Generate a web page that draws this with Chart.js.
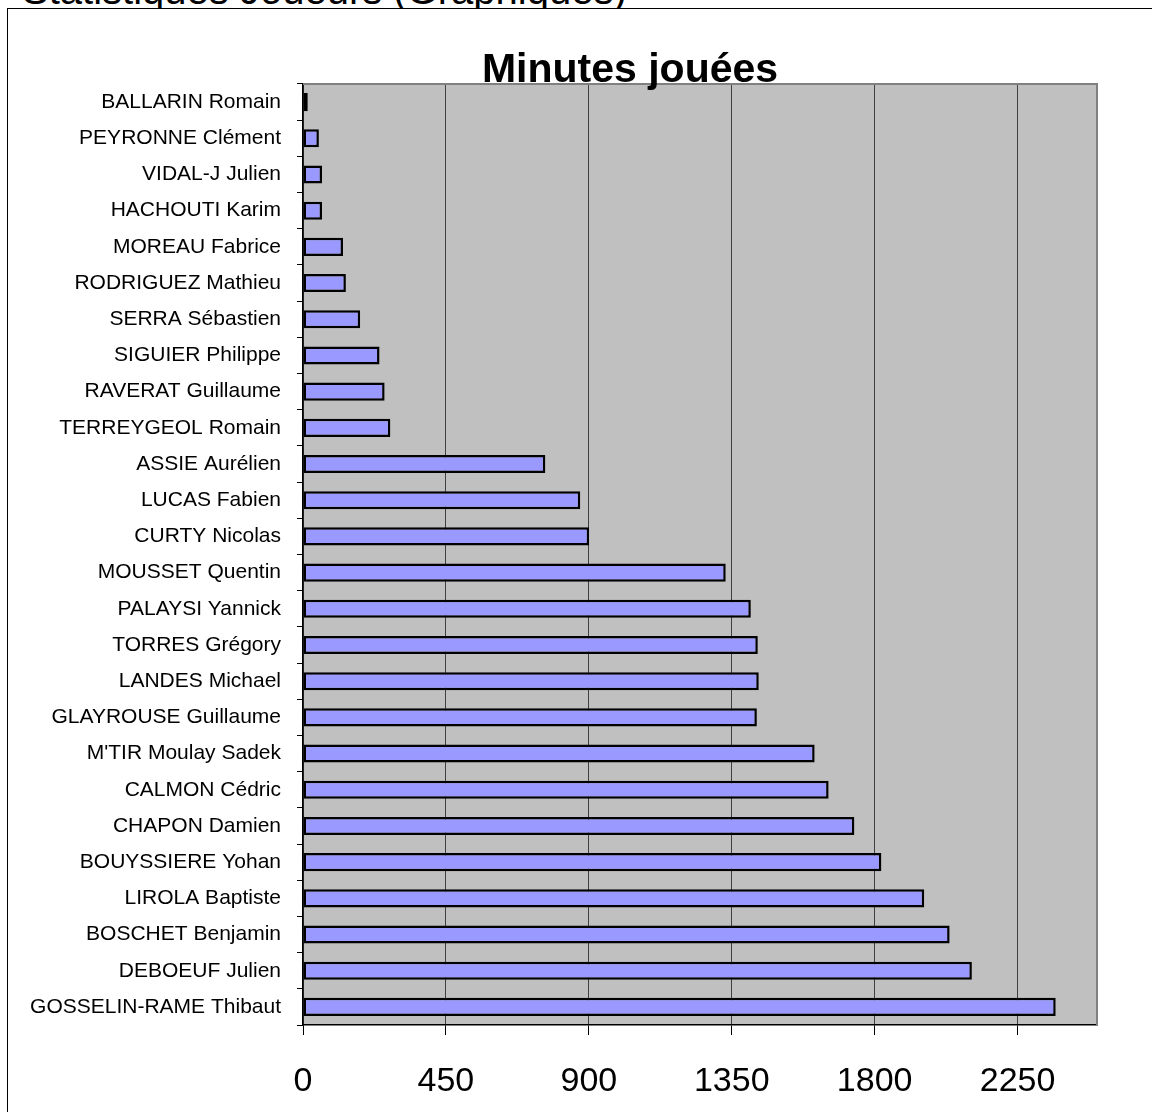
<!DOCTYPE html>
<html>
<head>
<meta charset="utf-8">
<script src="https://cdn.jsdelivr.net/npm/chart.js@4.4.0/dist/chart.umd.min.js"></script>
<style>
  html, body { margin:0; padding:0; width:1152px; height:1112px; overflow:hidden; background:#fff; }
  #pageTitle { position:absolute; left:22px; top:-30px; font-family:"Liberation Sans", Arial, sans-serif; font-size:40px; line-height:40px; color:#000; white-space:nowrap; z-index:1; }
  #frame { position:absolute; left:7px; top:8px; width:1300px; height:1300px; border-left:1px solid #000; border-top:1px solid #000; background:#fff; z-index:2; }
  #wrap { position:absolute; left:0; top:0; width:1152px; height:1112px; z-index:3; }
</style>
</head>
<body>
<div id="pageTitle">Statistiques Joueurs (Graphiques)</div>
<div id="frame"></div>
<div id="wrap"><canvas id="c" width="1152" height="1112"></canvas></div>
<script>
const chartTitle = "Minutes jouées";
const players = [
  "BALLARIN Romain", "PEYRONNE Clément", "VIDAL-J Julien", "HACHOUTI Karim",
  "MOREAU Fabrice", "RODRIGUEZ Mathieu", "SERRA Sébastien", "SIGUIER Philippe",
  "RAVERAT Guillaume", "TERREYGEOL Romain", "ASSIE Aurélien", "LUCAS Fabien",
  "CURTY Nicolas", "MOUSSET Quentin", "PALAYSI Yannick", "TORRES Grégory",
  "LANDES Michael", "GLAYROUSE Guillaume", "M'TIR Moulay Sadek", "CALMON Cédric",
  "CHAPON Damien", "BOUYSSIERE Yohan", "LIROLA Baptiste", "BOSCHET Benjamin",
  "DEBOEUF Julien", "GOSSELIN-RAME Thibaut"
];
const minutes = [
  15, 50, 60, 60,
  126, 135, 180, 241,
  257, 275, 763, 873,
  901, 1331, 1410, 1432,
  1435, 1429, 1611, 1655,
  1736, 1821, 1956, 2036,
  2106, 2370
];
const axisMin = 0;
const axisMax = 2500;
const tickValues = [0, 450, 900, 1350, 1800, 2250];

const plotBg = {
  id: 'plotBg',
  beforeDraw(chart) {
    const {ctx, chartArea: a} = chart;
    ctx.save();
    ctx.fillStyle = '#C0C0C0';
    ctx.fillRect(a.left, a.top, a.right - a.left, a.bottom - a.top);
    ctx.restore();
  },
  afterDraw(chart) {
    const {ctx, chartArea: a} = chart;
    ctx.save();
    ctx.strokeStyle = '#808080';
    ctx.lineWidth = 2;
    ctx.beginPath();
    ctx.moveTo(a.left, a.top);
    ctx.lineTo(a.right, a.top);
    ctx.lineTo(a.right, a.bottom);
    ctx.stroke();
    ctx.restore();
  }
};

const titlePlugin = {
  id: 'customTitle',
  afterDraw(chart, args, opts) {
    const ctx = chart.ctx;
    ctx.save();
    ctx.font = opts.font;
    ctx.fillStyle = '#000';
    ctx.textAlign = 'center';
    ctx.textBaseline = 'alphabetic';
    ctx.fillText(opts.text, opts.x, opts.y);
    ctx.restore();
  }
};

new Chart(document.getElementById('c'), {
  type: 'bar',
  data: {
    labels: players,
    datasets: [{
      data: minutes,
      backgroundColor: '#9999FF',
      borderColor: '#000000',
      borderWidth: 2.5,
      borderSkipped: false,
      categoryPercentage: 1.0,
      barPercentage: 0.5
    }]
  },
  options: {
    indexAxis: 'y',
    responsive: false,
    animation: false,
    devicePixelRatio: 1,
    layout: { padding: { top: 84, right: 55, left: 0, bottom: 0 } },
    plugins: {
      legend: { display: false },
      tooltip: { enabled: false },
      title: { display: false },
      customTitle: { text: chartTitle, font: 'bold 41px "Liberation Sans", Arial, sans-serif', x: 630, y: 82 }
    },
    scales: {
      x: {
        type: 'linear',
        min: axisMin,
        max: axisMax,
        afterFit(s) { s.height = 87; },
        afterBuildTicks(s) { s.ticks = tickValues.map(v => ({ value: v })); },
        ticks: {
          color: '#000',
          padding: 26,
          callback: (v) => String(v),
          font: { family: '"Liberation Sans", Arial, sans-serif', size: 34 }
        },
        grid: { color: '#404040', lineWidth: 1, tickColor: '#000', tickLength: 10, drawTicks: true },
        border: { color: '#000', width: 1.5 }
      },
      y: {
        afterFit(s) { s.width = 303; },
        ticks: {
          color: '#000',
          padding: 16,
          autoSkip: false,
          font: { family: '"Liberation Sans", Arial, sans-serif', size: 21 }
        },
        grid: { drawOnChartArea: false, offset: true, tickColor: '#000', tickLength: 6, drawTicks: true },
        border: { color: '#000', width: 1.5 }
      }
    }
  },
  plugins: [plotBg, titlePlugin]
});
</script>
</body>
</html>
